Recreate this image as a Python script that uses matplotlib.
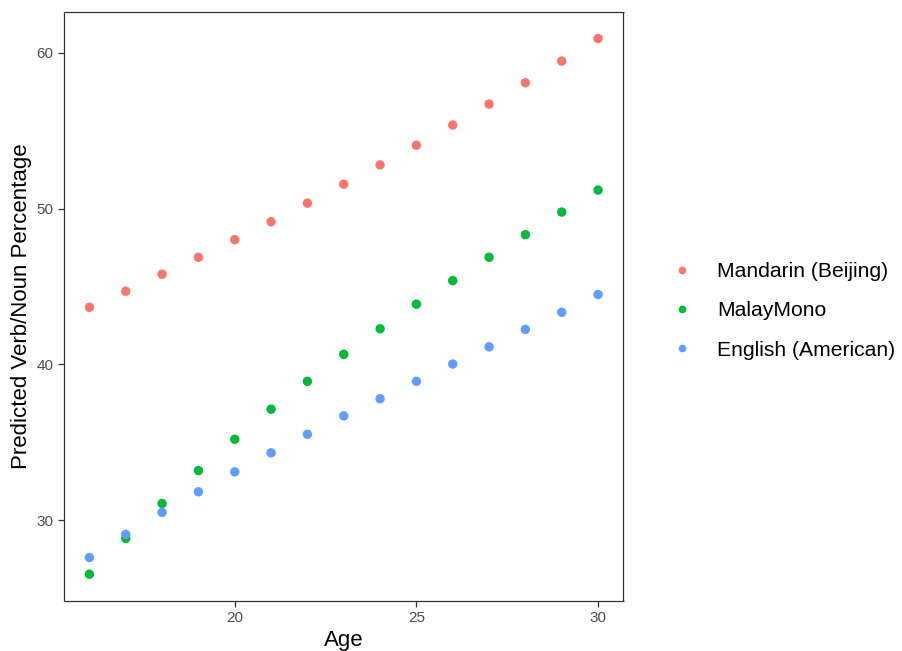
import matplotlib
matplotlib.use("Agg")
import matplotlib.pyplot as plt
from matplotlib.lines import Line2D

plt.rcParams['font.family'] = ['Liberation Sans', 'DejaVu Sans']

ages = [16, 17, 18, 19, 20, 21, 22, 23, 24, 25, 26, 27, 28, 29, 30]
mandarin = [43.67, 44.70, 45.79, 46.88, 48.01, 49.16, 50.35, 51.57, 52.81, 54.07,
            55.37, 56.71, 58.08, 59.47, 60.92]
malay = [26.54, 28.84, 31.08, 33.19, 35.20, 37.13, 38.92, 40.65, 42.29, 43.87,
         45.38, 46.88, 48.33, 49.78, 51.19]
english = [27.61, 29.10, 30.51, 31.83, 33.11, 34.33, 35.52, 36.70, 37.80, 38.92,
           40.03, 41.13, 42.25, 43.35, 44.49]
series_names = ['Mandarin (Beijing)', 'MalayMono', 'English (American)']
series_values = [mandarin, malay, english]
colors = ['#F8766D', '#00BA38', '#619CFF']
xticks = [20, 25, 30]
yticks = [30, 40, 50, 60]

fig = plt.figure(figsize=(9.03, 6.51), dpi=100)
ax = fig.add_axes([64/903, 1-601/651, (623.5-64)/903, (601-11.7)/651])

for name, vals, c in zip(series_names, series_values, colors):
    ax.scatter(ages, vals, s=46, color=c, edgecolors='none', label=name, zorder=3)

xmin, xmax = min(ages), max(ages)
allv = mandarin + malay + english
ymin, ymax = min(allv), max(allv)
ax.set_xlim(xmin - 0.05*(xmax-xmin), xmax + 0.05*(xmax-xmin))
ax.set_ylim(ymin - 0.05*(ymax-ymin), ymax + 0.05*(ymax-ymin))
ax.set_xticks(xticks)
ax.set_yticks(yticks)
ax.tick_params(axis='both', colors='#333333', labelcolor='#4D4D4D', labelsize=11,
               length=4, width=0.9)
for sp in ax.spines.values():
    sp.set_color('#333333')
    sp.set_linewidth(0.9)
    sp.set_capstyle('butt')

ax.set_xlabel('Age', fontsize=16, color='black', labelpad=3)
ax.set_ylabel('Predicted Verb/Noun Percentage', fontsize=16, color='black', labelpad=3)

handles = [Line2D([0], [0], marker='o', linestyle='none', markersize=5.5,
                  markerfacecolor=c, markeredgecolor='none') for c in colors]
fig.legend(handles, series_names, loc='center left', bbox_to_anchor=(651/903, 1-311/651),
           frameon=False, fontsize=15.2, handletextpad=0.95, labelspacing=0.95,
           handlelength=1.5, borderpad=0.2)

fig.savefig('out.png', dpi=100, facecolor='white')
